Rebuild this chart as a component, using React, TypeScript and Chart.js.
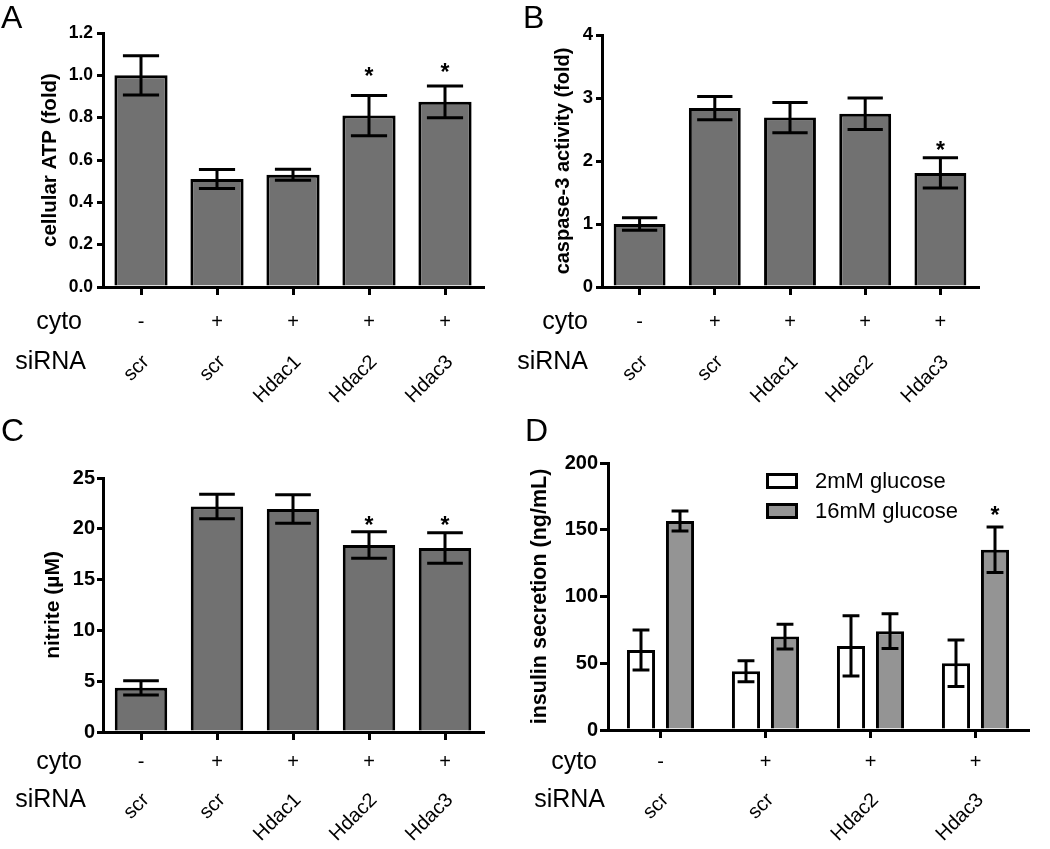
import React, { useEffect, useRef } from "react";
import { Chart, registerables } from "chart.js";

Chart.register(...registerables);

const FONT = "'Liberation Sans', Arial, Helvetica, sans-serif";

// ---------- Panel A: cellular ATP ----------
const aSirna = ["scr", "scr", "Hdac1", "Hdac2", "Hdac3"];
const aCyto = ["-", "+", "+", "+", "+"];
const aValues = [1.0, 0.51, 0.53, 0.81, 0.875];
const aSem = [0.093, 0.045, 0.026, 0.095, 0.075];
const aStars = [null, null, null, 1.02, 1.04];
const aYTicks = [0, 0.2, 0.4, 0.6, 0.8, 1.0, 1.2];

// ---------- Panel B: caspase-3 ----------
const bSirna = ["scr", "scr", "Hdac1", "Hdac2", "Hdac3"];
const bCyto = ["-", "+", "+", "+", "+"];
const bValues = [1.0, 2.84, 2.69, 2.75, 1.81];
const bSem = [0.1, 0.185, 0.24, 0.25, 0.24];
const bStars = [null, null, null, null, 2.25];
const bYTicks = [0, 1, 2, 3, 4];

// ---------- Panel C: nitrite ----------
const cSirna = ["scr", "scr", "Hdac1", "Hdac2", "Hdac3"];
const cCyto = ["-", "+", "+", "+", "+"];
const cValues = [4.35, 22.2, 21.95, 18.4, 18.1];
const cSem = [0.7, 1.2, 1.4, 1.3, 1.5];
const cStars = [null, null, null, 20.9, 20.9];
const cYTicks = [0, 5, 10, 15, 20, 25];

// ---------- Panel D: insulin secretion ----------
const dSirna = ["scr", "scr", "Hdac2", "Hdac3"];
const dCyto = ["-", "+", "+", "+"];
const dSeriesNames = ["2mM glucose", "16mM glucose"];
const dLow = [60, 44, 63, 50];
const dLowSem = [15, 7.8, 22.5, 17.5];
const dHigh = [156.5, 70, 74, 135];
const dHighSem = [7.5, 9.3, 13, 17];
const dHighStars = [null, null, null, 165];
const dYTicks = [0, 50, 100, 150, 200];

type PanelCfg = {
  key: string;
  left: number;
  top: number;
  width: number;
  height: number;
  plot: { left: number; right: number; top: number; bottom: number };
  letter: string;
  letterX: number;
  letterBase: number;
  title: string;
  titleSize: number;
  titleX: number;
  tickSize: number;
  tickLen: number;
  tickPad: number;
  yTicks: number[];
  decimals: number;
  sirna: string[];
  cyto: string[];
  cytoRight: number;
  cytoY: number;
  sirnaRight: number;
  sirnaY: number;
  labelY: number;
  labelSize: number;
  capRatio: number;
  datasets: any[];
  legend?: { x: number; y: number[]; boxW: number; boxH: number; textX: number };
};

const GRAY_DARK = "#717171";
const GRAY_LIGHT = "#949494";

const panels: PanelCfg[] = [
  {
    key: "A",
    left: 0,
    top: 0,
    width: 515,
    height: 410,
    plot: { left: 103, right: 483, top: 33, bottom: 287 },
    letter: "A",
    letterX: 1,
    letterBase: 28,
    title: "cellular ATP (fold)",
    titleSize: 20.5,
    titleX: 50,
    tickSize: 17.5,
    tickLen: 6,
    tickPad: 4,
    yTicks: aYTicks,
    decimals: 1,
    sirna: aSirna,
    cyto: aCyto,
    cytoRight: 82,
    cytoY: 322,
    sirnaRight: 86,
    sirnaY: 362,
    labelY: 359,
    labelSize: 20,
    capRatio: 0.68,
    datasets: [
      {
        data: aValues,
        sem: aSem,
        stars: aStars,
        backgroundColor: GRAY_DARK,
        borderColor: "#000",
        borderWidth: 3,
        categoryPercentage: 1,
        barPercentage: 0.7,
      },
    ],
  },
  {
    key: "B",
    left: 515,
    top: 0,
    width: 535,
    height: 410,
    plot: { left: 602, right: 978, top: 35, bottom: 287 },
    letter: "B",
    letterX: 523,
    letterBase: 28,
    title: "caspase-3 activity (fold)",
    titleSize: 20,
    titleX: 563,
    tickSize: 18.5,
    tickLen: 6,
    tickPad: 3,
    yTicks: bYTicks,
    decimals: 0,
    sirna: bSirna,
    cyto: bCyto,
    cytoRight: 588,
    cytoY: 322,
    sirnaRight: 588,
    sirnaY: 362,
    labelY: 359,
    labelSize: 20,
    capRatio: 0.68,
    datasets: [
      {
        data: bValues,
        sem: bSem,
        stars: bStars,
        backgroundColor: GRAY_DARK,
        borderColor: "#000",
        borderWidth: 3,
        categoryPercentage: 1,
        barPercentage: 0.69,
      },
    ],
  },
  {
    key: "C",
    left: 0,
    top: 410,
    width: 515,
    height: 439,
    plot: { left: 103, right: 483, top: 478, bottom: 732 },
    letter: "C",
    letterX: 1,
    letterBase: 441,
    title: "nitrite (\u00b5M)",
    titleSize: 21,
    titleX: 53,
    tickSize: 20,
    tickLen: 6,
    tickPad: 2,
    yTicks: cYTicks,
    decimals: 0,
    sirna: cSirna,
    cyto: cCyto,
    cytoRight: 82,
    cytoY: 762,
    sirnaRight: 86,
    sirnaY: 800,
    labelY: 797,
    labelSize: 20,
    capRatio: 0.68,
    datasets: [
      {
        data: cValues,
        sem: cSem,
        stars: cStars,
        backgroundColor: GRAY_DARK,
        borderColor: "#000",
        borderWidth: 3,
        categoryPercentage: 1,
        barPercentage: 0.69,
      },
    ],
  },
  {
    key: "D",
    left: 515,
    top: 410,
    width: 535,
    height: 439,
    plot: { left: 608, right: 1028, top: 463, bottom: 730 },
    letter: "D",
    letterX: 525,
    letterBase: 441,
    title: "insulin secretion (ng/mL)",
    titleSize: 21.5,
    titleX: 540,
    tickSize: 20,
    tickLen: 8,
    tickPad: 2,
    yTicks: dYTicks,
    decimals: 0,
    sirna: dSirna,
    cyto: dCyto,
    cytoRight: 597,
    cytoY: 762,
    sirnaRight: 605,
    sirnaY: 800,
    labelY: 797,
    labelSize: 20,
    capRatio: 0.6,
    datasets: [
      {
        label: dSeriesNames[0],
        data: dLow,
        sem: dLowSem,
        stars: [null, null, null, null],
        backgroundColor: "#ffffff",
        borderColor: "#000",
        borderWidth: 3,
        categoryPercentage: 0.743,
        barPercentage: 0.72,
      },
      {
        label: dSeriesNames[1],
        data: dHigh,
        sem: dHighSem,
        stars: dHighStars,
        backgroundColor: GRAY_LIGHT,
        borderColor: "#000",
        borderWidth: 3,
        categoryPercentage: 0.743,
        barPercentage: 0.72,
      },
    ],
    legend: { x: 766, y: [473, 503], boxW: 32, boxH: 16, textX: 815 },
  },
];

function makeDecorPlugin(p: PanelCfg) {
  return {
    id: "decor" + p.key,
    afterDatasetsDraw(chart: any) {
      const ctx = chart.ctx as CanvasRenderingContext2D;
      const y = chart.scales.y;
      ctx.save();
      ctx.strokeStyle = "#000";
      ctx.fillStyle = "#000";
      ctx.lineWidth = 3;
      ctx.lineCap = "butt";
      chart.data.datasets.forEach((ds: any, di: number) => {
        const meta = chart.getDatasetMeta(di);
        meta.data.forEach((bar: any, i: number) => {
          const v = ds.data[i];
          const e = ds.sem[i];
          const x = bar.x;
          const half = (bar.width * p.capRatio) / 2;
          const yt = y.getPixelForValue(v + e);
          const yb = y.getPixelForValue(v - e);
          ctx.beginPath();
          ctx.moveTo(x, yt);
          ctx.lineTo(x, yb);
          ctx.moveTo(x - half, yt);
          ctx.lineTo(x + half, yt);
          ctx.moveTo(x - half, yb);
          ctx.lineTo(x + half, yb);
          ctx.stroke();
          const s = ds.stars[i];
          if (s !== null && s !== undefined) {
            ctx.font = `bold 23px ${FONT}`;
            ctx.textAlign = "center";
            ctx.textBaseline = "alphabetic";
            ctx.fillText("*", x, y.getPixelForValue(s) + 13);
          }
        });
      });
      ctx.restore();
    },
    afterDraw(chart: any) {
      const ctx = chart.ctx as CanvasRenderingContext2D;
      const xs = chart.scales.x;
      const ox = p.left;
      const oy = p.top;
      ctx.save();
      ctx.fillStyle = "#000";
      // panel letter
      ctx.font = `32px ${FONT}`;
      ctx.textAlign = "left";
      ctx.textBaseline = "alphabetic";
      ctx.fillText(p.letter, p.letterX - ox, p.letterBase - oy);
      // row headers
      ctx.font = `25px ${FONT}`;
      ctx.textAlign = "right";
      ctx.textBaseline = "middle";
      ctx.fillText("cyto", p.cytoRight - ox, p.cytoY - oy);
      ctx.fillText("siRNA", p.sirnaRight - ox, p.sirnaY - oy);
      // cyto signs and siRNA labels
      p.cyto.forEach((c, i) => {
        const x = xs.getPixelForValue(i);
        ctx.font = `20px ${FONT}`;
        ctx.textAlign = "center";
        ctx.textBaseline = "middle";
        ctx.fillText(c, x, p.cytoY - oy);
        ctx.save();
        ctx.translate(x + 5, p.labelY - oy);
        ctx.rotate(-Math.PI / 4);
        ctx.font = `${p.labelSize}px ${FONT}`;
        ctx.textAlign = "right";
        ctx.textBaseline = "middle";
        ctx.fillText(p.sirna[i], 0, 0);
        ctx.restore();
      });
      // legend
      if (p.legend) {
        const L = p.legend;
        chart.data.datasets.forEach((ds: any, di: number) => {
          const bx = L.x - ox;
          const by = L.y[di] - oy;
          ctx.fillStyle = ds.backgroundColor;
          ctx.fillRect(bx, by, L.boxW, L.boxH);
          ctx.strokeStyle = "#000";
          ctx.lineWidth = 3;
          ctx.strokeRect(bx + 1.5, by + 1.5, L.boxW - 3, L.boxH - 3);
          ctx.fillStyle = "#000";
          ctx.font = `22px ${FONT}`;
          ctx.textAlign = "left";
          ctx.textBaseline = "middle";
          ctx.fillText(ds.label, L.textX - ox, by + L.boxH / 2 + 1);
        });
      }
      ctx.restore();
    },
  };
}

function PanelChart({ p }: { p: PanelCfg }) {
  const ref = useRef<HTMLCanvasElement | null>(null);
  useEffect(() => {
    if (!ref.current) return;
    const titleLH = p.titleSize * 1.2;
    const chart = new Chart(ref.current, {
      type: "bar",
      data: {
        labels: p.sirna.map((s, i) => p.cyto[i] + " " + s),
        datasets: p.datasets.map((d) => ({ ...d, borderSkipped: "start" })),
      },
      options: {
        animation: false,
        responsive: false,
        maintainAspectRatio: false,
        layout: {
          padding: {
            left: 0,
            top: p.plot.top - p.top,
            right: p.left + p.width - p.plot.right,
            bottom: 0,
          },
        },
        plugins: {
          legend: { display: false },
          tooltip: { enabled: false },
        },
        scales: {
          x: {
            type: "category",
            offset: true,
            grid: {
              display: true,
              drawOnChartArea: false,
              drawTicks: true,
              offset: false,
              tickLength: 8,
              lineWidth: 3,
              color: "#000",
            },
            border: { display: true, width: 3, color: "#000" },
            ticks: { display: false },
            afterFit: (s: any) => {
              s.height = p.top + p.height - p.plot.bottom;
            },
          },
          y: {
            min: p.yTicks[0],
            max: p.yTicks[p.yTicks.length - 1],
            afterBuildTicks: (s: any) => {
              s.ticks = p.yTicks.map((v) => ({ value: v }));
            },
            ticks: {
              color: "#000",
              padding: p.tickPad,
              font: { family: FONT, size: p.tickSize, weight: "bold" },
              callback: (v: any) => Number(v).toFixed(p.decimals),
            },
            grid: {
              display: true,
              drawOnChartArea: false,
              drawTicks: true,
              tickLength: p.tickLen,
              lineWidth: 3,
              color: "#000",
            },
            border: { display: true, width: 3, color: "#000" },
            title: {
              display: true,
              text: p.title,
              color: "#000",
              font: { family: FONT, size: p.titleSize, weight: "bold", lineHeight: 1.2 },
              padding: { top: p.titleX - p.left - titleLH / 2, bottom: 0 },
            },
            afterFit: (s: any) => {
              s.width = p.plot.left - p.left;
            },
          },
        },
      } as any,
      plugins: [makeDecorPlugin(p)],
    });
    return () => chart.destroy();
  }, [p]);
  return (
    <canvas
      ref={ref}
      width={p.width}
      height={p.height}
      style={{
        position: "absolute",
        left: p.left,
        top: p.top,
        width: p.width,
        height: p.height,
      }}
    />
  );
}

export default function App() {
  return (
    <div
      style={{
        position: "absolute",
        left: 0,
        top: 0,
        width: 1050,
        height: 849,
        background: "#fff",
        overflow: "hidden",
      }}
    >
      {panels.map((p) => (
        <PanelChart key={p.key} p={p} />
      ))}
    </div>
  );
}
